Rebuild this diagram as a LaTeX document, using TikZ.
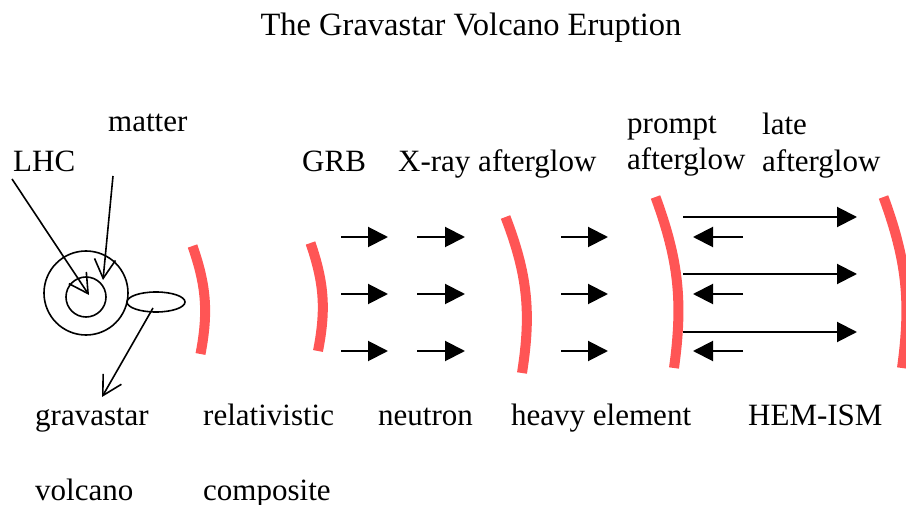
\documentclass[tikz,border=0pt]{standalone}
\usepackage{fontspec}
\setmainfont{Liberation Serif}
\usetikzlibrary{arrows.meta,shapes.geometric}
\definecolor{arcred}{HTML}{FF5555}
\tikzset{
  lbl/.style={anchor=base west, inner sep=0pt, font=\fontsize{31}{36}\selectfont},
  shell/.style={draw=arcred, line width=10pt},
  flow/.style={line width=2pt, -{Triangle[length=20pt,width=20pt]}},
  pointer/.style={line width=1.6pt, -{Straight Barb[length=19pt,width=21pt,line width=1.6pt]}},
  ring/.style={draw, line width=1.6pt}
}
\begin{document}
\begin{tikzpicture}[x=1pt,y=-1pt]
\useasboundingbox (0,0) rectangle (906,505);
% title
\node[anchor=base, inner sep=0pt, font=\fontsize{32.5}{38}\selectfont] (title) at (471,36) {The Gravastar Volcano Eruption};
% labels
\node[lbl] (matter) at (108,132) {matter};
\node[lbl] (lhc) at (13,172) {LHC};
\node[lbl] (grb) at (302,172) {GRB};
\node[lbl] (xray) at (398,172) {X-ray afterglow};
\node[lbl] (prompt) at (627,134) {prompt};
\node[lbl] (promptag) at (627,170) {afterglow};
\node[lbl] (late) at (762,135) {late};
\node[lbl] (lateag) at (762,172) {afterglow};
\node[lbl] (grav) at (35,425) {gravastar};
\node[lbl] (rel) at (203,425) {relativistic};
\node[lbl] (neut) at (378,425) {neutron};
\node[lbl] (heavy) at (511,425) {heavy element};
\node[lbl] (hem) at (748,425) {HEM-ISM};
\node[lbl] (volc) at (35,500) {volcano};
\node[lbl] (comp) at (203,500) {composite};
% gravastar
\node[ring, circle, minimum size=84pt, inner sep=0pt] (outer) at (86,293) {};
\node[ring, circle, minimum size=40pt, inner sep=0pt] (inner) at (86,297) {};
\node[ring, ellipse, minimum width=58pt, minimum height=20pt, inner sep=0pt] (jet) at (156,302) {};
\coordinate (lhcs) at (12,179);
\coordinate (lhct) at (89,295);
\coordinate (mats) at (113,176);
\coordinate (matt) at (103,280);
\coordinate (jets) at (153,308);
\coordinate (gravt) at (102,397);
\draw[pointer] (lhcs) -- (lhct);
\draw[pointer] (mats) -- (matt);
\draw[pointer] (jets) -- (gravt);
% red shells
\coordinate (s1t) at (192.5,246); \coordinate (s1b) at (200.5,354);
\coordinate (s2t) at (310.5,243); \coordinate (s2b) at (318,351);
\coordinate (s3t) at (505.5,217); \coordinate (s3b) at (522,373);
\coordinate (s4t) at (655.5,197); \coordinate (s4b) at (674,368);
\coordinate (s5t) at (883.5,197); \coordinate (s5b) at (902,368);
\draw[shell] (s1t) to[bend left=15] (s1b);
\draw[shell] (s2t) to[bend left=15] (s2b);
\draw[shell] (s3t) to[bend left=15] (s3b);
\draw[shell] (s4t) to[bend left=14] (s4b);
\draw[shell] (s5t) to[bend left=14] (s5b);
% forward arrows
\foreach \y/\n in {237/a,294/b,351/c}{
  \coordinate (c1s\n) at (341,\y); \coordinate (c1e\n) at (388,\y);
  \coordinate (c2s\n) at (417,\y); \coordinate (c2e\n) at (465,\y);
  \coordinate (c3s\n) at (561,\y); \coordinate (c3e\n) at (608,\y);
  \coordinate (bs\n) at (743,\y); \coordinate (be\n) at (693,\y);
  \draw[flow] (c1s\n) -- (c1e\n);
  \draw[flow] (c2s\n) -- (c2e\n);
  \draw[flow] (c3s\n) -- (c3e\n);
  \draw[flow] (bs\n) -- (be\n);
}
\foreach \y/\n in {217/a,274/b,332/c}{
  \coordinate (ls\n) at (683,\y); \coordinate (le\n) at (857,\y);
  \draw[flow] (ls\n) -- (le\n);
}
\end{tikzpicture}
\end{document}
